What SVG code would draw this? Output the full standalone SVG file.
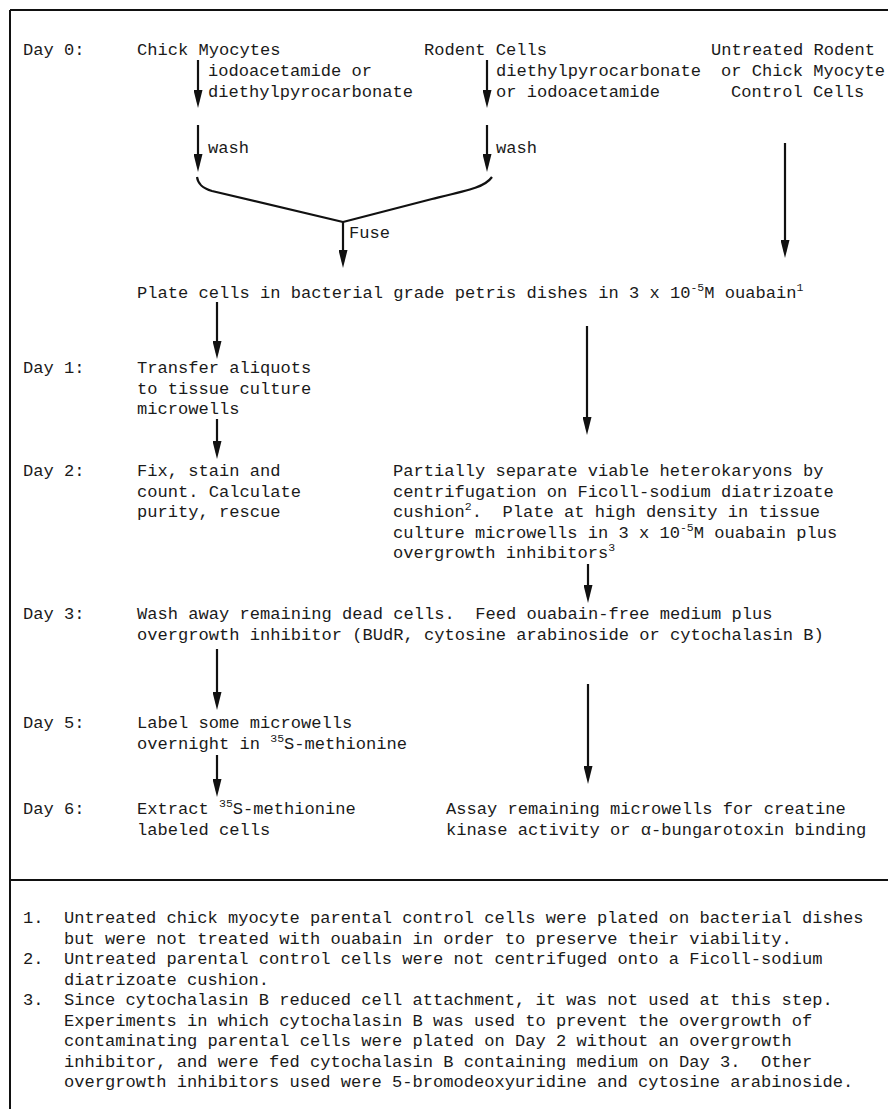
<svg xmlns="http://www.w3.org/2000/svg" width="888" height="1109" viewBox="0 0 888 1109">
<style>
.t{font-family:"Liberation Mono","DejaVu Sans Mono",monospace;font-size:17.08px;fill:#1a1a1a}
.s{font-size:11.5px}
.c{stroke:#111;stroke-width:2.2;fill:none}
.b{stroke:#111;stroke-width:2;fill:none}
</style>
<defs>
<marker id="ah" viewBox="0 0 18 9" refX="12" refY="4.5" markerWidth="18" markerHeight="9" markerUnits="userSpaceOnUse" orient="auto">
<path d="M0,0 L18,4.5 L0,9 z" fill="#111"/>
</marker>
</defs>
<rect width="888" height="1109" fill="#fff"/>
<g id="frame">
<line class="b" x1="10" y1="10" x2="888" y2="10"/>
<line class="b" x1="10" y1="10" x2="10" y2="1109"/>
<line class="b" x1="10" y1="880" x2="888" y2="880"/>
</g>
<g id="connectors">
<line class="c" x1="198" y1="60" x2="198" y2="102" marker-end="url(#ah)"/>
<line class="c" x1="198" y1="125" x2="198" y2="166" marker-end="url(#ah)"/>
<line class="c" x1="487" y1="60" x2="487" y2="102" marker-end="url(#ah)"/>
<line class="c" x1="487" y1="125" x2="487" y2="166" marker-end="url(#ah)"/>
<path class="c" d="M197,177 C198,184 202,188 212,191 L343,222"/>
<path class="c" d="M343,222 L432,199 C470,190 485,187 492,177"/>
<line class="c" x1="343" y1="222" x2="343" y2="262" marker-end="url(#ah)"/>
<line class="c" x1="785" y1="143" x2="785" y2="252" marker-end="url(#ah)"/>
<line class="c" x1="217" y1="302" x2="217" y2="353" marker-end="url(#ah)"/>
<line class="c" x1="217" y1="419" x2="217" y2="453" marker-end="url(#ah)"/>
<line class="c" x1="587" y1="326" x2="587" y2="429" marker-end="url(#ah)"/>
<line class="c" x1="588" y1="564" x2="588" y2="597" marker-end="url(#ah)"/>
<line class="c" x1="217" y1="649" x2="217" y2="704" marker-end="url(#ah)"/>
<line class="c" x1="217" y1="755" x2="217" y2="791" marker-end="url(#ah)"/>
<line class="c" x1="588" y1="684" x2="588" y2="778" marker-end="url(#ah)"/>
</g>
<g id="day-labels" class="t">
<text x="23" y="55">Day 0:</text>
<text x="23" y="373">Day 1:</text>
<text x="23" y="476">Day 2:</text>
<text x="23" y="619">Day 3:</text>
<text x="23" y="728">Day 5:</text>
<text x="23" y="814">Day 6:</text>
</g>
<g id="chick-myocytes" class="t"><text x="137" y="55">Chick Myocytes</text></g>
<g id="rodent-cells" class="t"><text x="424" y="55">Rodent Cells</text></g>
<g id="control-cells" class="t">
<text x="711" y="55">Untreated Rodent</text>
<text x="721" y="76">or Chick Myocyte</text>
<text x="731" y="97">Control Cells</text>
</g>
<g id="chick-treatment" class="t">
<text x="208" y="76">iodoacetamide or</text>
<text x="208" y="97">diethylpyrocarbonate</text>
<text x="208" y="153">wash</text>
</g>
<g id="rodent-treatment" class="t">
<text x="496" y="76">diethylpyrocarbonate</text>
<text x="496" y="97">or iodoacetamide</text>
<text x="496" y="153">wash</text>
</g>
<g id="fuse" class="t"><text x="349" y="238">Fuse</text></g>
<g id="plate-cells" class="t"><text x="137" y="298">Plate cells in bacterial grade petris dishes in 3 x 10<tspan class="s" dy="-7">-5</tspan><tspan dy="7">M ouabain</tspan><tspan class="s" dy="-7">1</tspan></text></g>
<g id="transfer" class="t">
<text x="137" y="373">Transfer aliquots</text>
<text x="137" y="393.5">to tissue culture</text>
<text x="137" y="414">microwells</text>
</g>
<g id="fix-stain" class="t">
<text x="137" y="476">Fix, stain and</text>
<text x="137" y="496.5">count. Calculate</text>
<text x="137" y="517">purity, rescue</text>
</g>
<g id="separate" class="t">
<text x="393" y="476">Partially separate viable heterokaryons by</text>
<text x="393" y="496.5">centrifugation on Ficoll-sodium diatrizoate</text>
<text x="393" y="517">cushion<tspan class="s" dy="-7">2</tspan><tspan dy="7">. &#160;Plate at high density in tissue</tspan></text>
<text x="393" y="537.5">culture microwells in 3 x 10<tspan class="s" dy="-7">-5</tspan><tspan dy="7">M ouabain plus</tspan></text>
<text x="393" y="558">overgrowth inhibitors<tspan class="s" dy="-7">3</tspan></text>
</g>
<g id="wash-feed" class="t">
<text x="137" y="619">Wash away remaining dead cells. &#160;Feed ouabain-free medium plus</text>
<text x="137" y="639.5">overgrowth inhibitor (BUdR, cytosine arabinoside or cytochalasin B)</text>
</g>
<g id="label" class="t">
<text x="137" y="728">Label some microwells</text>
<text x="137" y="748.5">overnight in <tspan class="s" dy="-7">35</tspan><tspan dy="7">S-methionine</tspan></text>
</g>
<g id="extract" class="t">
<text x="137" y="814">Extract <tspan class="s" dy="-7">35</tspan><tspan dy="7">S-methionine</tspan></text>
<text x="137" y="834.5">labeled cells</text>
</g>
<g id="assay" class="t">
<text x="446" y="814">Assay remaining microwells for creatine</text>
<text x="446" y="834.5">kinase activity or α-bungarotoxin binding</text>
</g>
<g id="footnotes" class="t">
<text x="23" y="923">1. &#160;Untreated chick myocyte parental control cells were plated on bacterial dishes</text>
<text x="64" y="943.5">but were not treated with ouabain in order to preserve their viability.</text>
<text x="23" y="964">2. &#160;Untreated parental control cells were not centrifuged onto a Ficoll-sodium</text>
<text x="64" y="984.5">diatrizoate cushion.</text>
<text x="23" y="1005">3. &#160;Since cytochalasin B reduced cell attachment, it was not used at this step.</text>
<text x="64" y="1025.5">Experiments in which cytochalasin B was used to prevent the overgrowth of</text>
<text x="64" y="1046">contaminating parental cells were plated on Day 2 without an overgrowth</text>
<text x="64" y="1066.5">inhibitor, and were fed cytochalasin B containing medium on Day 3. &#160;Other</text>
<text x="64" y="1087">overgrowth inhibitors used were 5-bromodeoxyuridine and cytosine arabinoside.</text>
</g>
</svg>
